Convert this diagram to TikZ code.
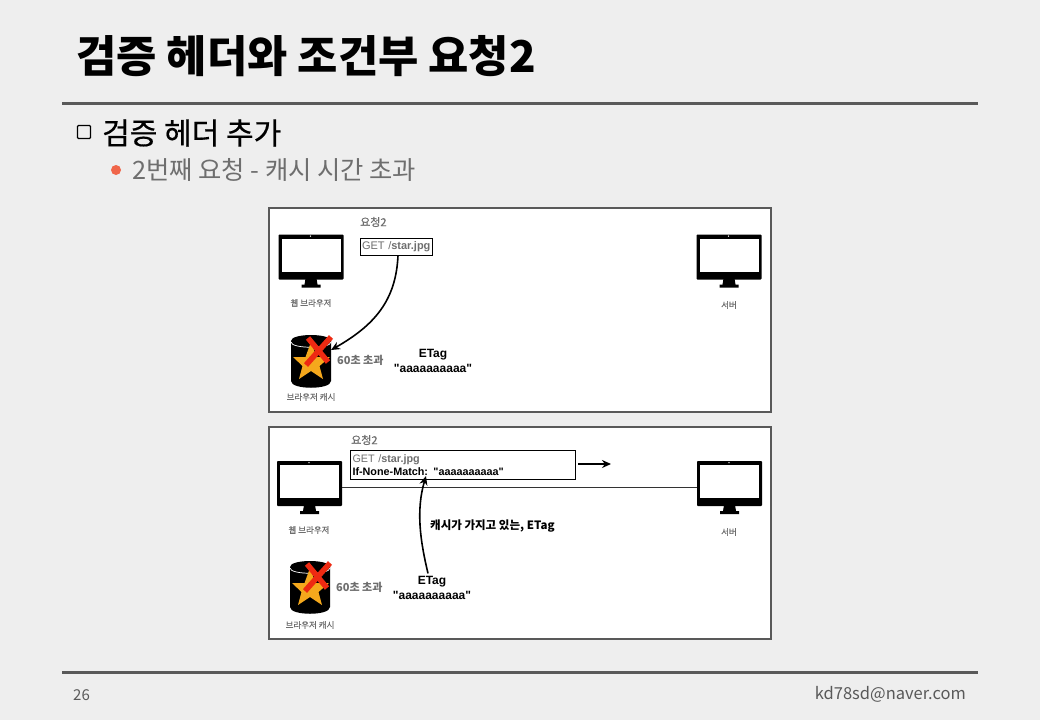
\documentclass[tikz,border=0pt]{standalone}
\usepackage{fontspec}
\setmainfont[Ligatures=TeXOff]{Liberation Sans}
\newfontfamily\krfont{Noto Sans CJK KR}
\newfontfamily\krmed[FakeBold=0.5]{Noto Sans CJK KR}
\usepackage{xcolor}
\usetikzlibrary{positioning, arrows.meta, calc, shapes.geometric}
\definecolor{SlideBg}{HTML}{EEEEEE}
\definecolor{RuleGray}{HTML}{595959}
\definecolor{SubGray}{HTML}{6E6E6E}
\definecolor{DotRed}{HTML}{F0664A}
\definecolor{StarGold}{HTML}{F5A81C}
\definecolor{CrossRed}{HTML}{EE2A12}

\begin{document}
\begin{tikzpicture}[
  x=1pt, y=-1pt,
  >={Stealth[length=9pt,width=8pt]},
  slideRule/.style={line width=3pt, color=RuleGray},
  panel/.style={draw=RuleGray, line width=1.8pt, fill=white, minimum width=502pt, inner sep=0pt, outer sep=0pt, anchor=north west},
  reqbox/.style={draw=black, line width=1pt, fill=white, inner sep=0pt, outer sep=0pt, anchor=north west, align=left},
  curvearr/.style={->, line width=1.6pt, color=black},
  lbl/.style={font=\krmed\fontsize{8.5}{9}\selectfont, text=SubGray, inner sep=0pt},
  req/.style={font=\krmed\fontsize{11}{12}\selectfont, text=SubGray, inner sep=0pt},
  etag/.style={font=\bfseries\fontsize{12}{14.5}\selectfont, align=center, inner sep=0pt},
  monitor/.pic={
    \node[draw=none, fill=black, rounded corners=0.8pt, minimum width=65pt, minimum height=45pt, inner sep=0pt, outer sep=0pt, anchor=north west] (-body) at (0,0) {};
    \fill[white] (3,4) rectangle (62,37);
    \fill[white] (32,1.6) circle (0.7);
    \fill[black] (27,44) -- (38,44) -- (39,50) -- (42,50) -- (42,53) -- (23,53) -- (23,50) -- (26,50) -- cycle;
  },
  cachedb/.pic={
    \fill[black] (0,6) -- (0,46) .. controls (0,55) and (40,55) .. (40,46) -- (40,6) .. controls (40,-2) and (0,-2) .. cycle;
    \draw[white, line width=0.7pt] (0,7) .. controls (0,14) and (40,14) .. (40,7);
    \fill[StarGold] (20,7) -- (25.5,22) -- (39,22) -- (28.5,31) -- (32,44) -- (20,36) -- (8,44) -- (11.5,31) -- (2,22) -- (14.5,22) -- cycle;
    \draw[CrossRed, line width=5.5pt] (17,3) -- (37,27);
    \draw[CrossRed, line width=5.5pt] (40,2) -- (15,30);
  },
]
  \useasboundingbox (0,0) rectangle (1040,720);
  \fill[SlideBg] (0,0) rectangle (1040,720);

  % slide heading
  \node[anchor=west, inner sep=0pt, font=\krfont\bfseries\fontsize{43.8}{46}\selectfont] (title) at (76,56) {검증 헤더와 조건부 요청2};
  \draw[slideRule] (62,103) -- (978,103);
  \draw[slideRule] (62,672) -- (978,672);

  \node[draw=black, line width=1.3pt, rounded corners=1pt, minimum width=13pt, minimum height=13pt, inner sep=0pt] (boxmark) at (84,132) {};
  \node[anchor=west, inner sep=0pt, font=\krmed\fontsize{30}{32}\selectfont] (head) at (102,133) {검증 헤더 추가};
  \node[circle, fill=DotRed, minimum size=10pt, inner sep=0pt] (dot) at (116,170) {};
  \node[anchor=west, inner sep=0pt, text=SubGray, font=\krfont\fontsize{25.3}{28}\selectfont] (sub) at (132,170) {2번째 요청 - 캐시 시간 초과};

  \node[anchor=west, inner sep=0pt, text=RuleGray, font=\krfont\fontsize{15}{17}\selectfont] (page) at (73,695) {26};
  \node[anchor=east, inner sep=0pt, text=RuleGray, font=\krfont\fontsize{16.5}{18}\selectfont] (mail) at (966,694) {kd78sd@naver.com};

  % upper panel
  \node[panel, minimum height=204pt] (panelA) at (269,208) {};
  \pic (browserA) at (278.5,234.5) {monitor};
  \pic (serverA) at (696.5,234.5) {monitor};
  \node[lbl] (browserAlbl) at (311,303) {웹 브라우저};
  \node[lbl] (serverAlbl) at (729,305) {서버};
  \pic at (291,335) {cachedb};
  \coordinate (cacheA) at (331,350);
  \node[lbl] (cacheAlbl) at (311,397) {브라우저 캐시};
  \node[req, anchor=west] (reqAlbl) at (360,222) {요청2};
  \node[reqbox, minimum height=17pt, text width=72pt, text=SubGray, font=\fontsize{11}{12}\selectfont] (reqA) at (360,238.5) {\hspace{2pt}\raisebox{-1pt}{GET /\textbf{star.jpg}}};
  \node[inner sep=0pt, anchor=west, text=SubGray, font=\krfont\bfseries\fontsize{11}{12}\selectfont] (overA) at (337,360) {60초 초과};
  \node[etag] (etagA) at (433,361) {ETag\\"aaaaaaaaaa"};
  \draw[curvearr] (reqA.south -| 398,0) .. controls (396,300) and (375,325) .. (cacheA);

  % lower panel
  \node[panel, minimum height=212pt] (panelB) at (269,427) {};
  \pic (browserB) at (277,461) {monitor};
  \pic (serverB) at (697,461) {monitor};
  \node[lbl] (browserBlbl) at (309,530) {웹 브라우저};
  \node[lbl] (serverBlbl) at (729,532) {서버};
  \pic at (290,561) {cachedb};
  \node[lbl] (cacheBlbl) at (310,625) {브라우저 캐시};
  \node[req, anchor=west] (reqBlbl) at (351,440) {요청2};
  \draw[line width=1.2pt, color=black!80] ([yshift=-4pt]browserB-body.east) -- ([yshift=-4pt]serverB-body.west);
  \node[reqbox, text width=225pt, minimum height=29pt, font=\fontsize{10.8}{13}\selectfont] (reqB) at (350.5,450.5) {\hspace{2pt}\raisebox{-1pt}{\textcolor{SubGray}{GET /\textbf{star.jpg}}}\\[-0.5pt]\hspace{2pt}\raisebox{-1pt}{\textbf{If-None-Match: "aaaaaaaaaa"}}};
  \coordinate (reqBin) at (426,476);
  \coordinate (goA) at (578,464);
  \coordinate (goB) at (611,464);
  \draw[curvearr] (goA) -- (goB);
  \node[inner sep=0pt, anchor=west, text=SubGray, font=\krfont\bfseries\fontsize{11}{12}\selectfont] (overB) at (336,587) {60초 초과};
  \node[etag] (etagB) at (432,588) {ETag\\"aaaaaaaaaa"};
  \node[inner sep=0pt, anchor=west, font=\krfont\bfseries\fontsize{11.5}{12}\selectfont] (cachenote) at (430,526) {캐시가 가지고 있는, ETag};
  \draw[curvearr] ([xshift=-4pt,yshift=3pt]etagB.north) .. controls (420,540) and (416,510) .. (reqBin);
\end{tikzpicture}
\end{document}
